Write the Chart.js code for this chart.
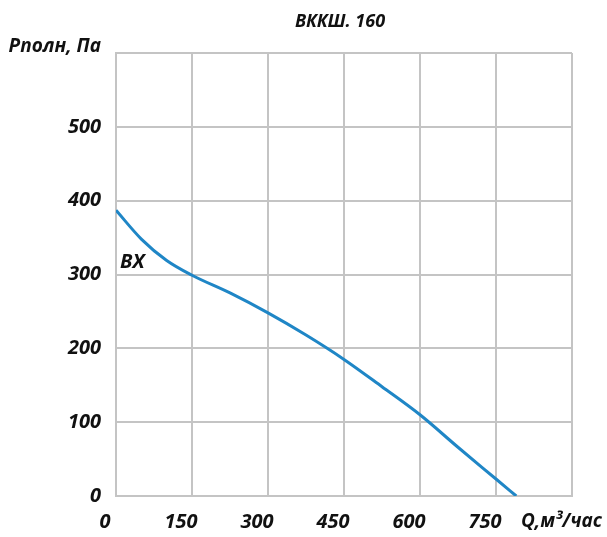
<!DOCTYPE html>
<html>
<head>
<meta charset="utf-8">
<script src="https://cdn.jsdelivr.net/npm/chart.js@4/dist/chart.umd.min.js"></script>
<style>
  html, body { margin: 0; padding: 0; background: #fff; }
  #wrap { width: 607px; height: 537px; }
</style>
</head>
<body>
<div id="wrap"><canvas id="c" width="607" height="537"></canvas></div>
<script>
// Fan curve ВККШ. 160: total pressure vs. air flow
const flowQ = [0, 50, 100, 150, 225, 300, 375, 450, 525, 600, 675, 750, 790];
const pressureP = [387, 348, 319, 299, 275, 248, 218, 185, 148, 110, 66, 23, 0];
const xTicks = [0, 150, 300, 450, 600, 750];
const yTicks = [0, 100, 200, 300, 400, 500];
const chartTitle = 'ВККШ. 160';
const yTitle = 'Рполн, Па';
const xTitle = 'Q,м³/час';
const curveLabel = 'ВХ';

const FONT = '"Open Sans", "DejaVu Sans", sans-serif';
const gridColor = '#c4c4c4';

const textPlugin = {
  id: 'texts',
  afterDraw(chart) {
    const ctx = chart.ctx;
    const xs = chart.scales.x, ys = chart.scales.y;
    ctx.save();
    ctx.fillStyle = '#111';
    ctx.font = 'italic 700 18px ' + FONT;
    ctx.textAlign = 'center';
    ctx.textBaseline = 'middle';
    ctx.fillText(chartTitle, 340, 22);

    ctx.font = 'italic 700 19px ' + FONT;
    ctx.textAlign = 'right';
    ctx.fillText(yTitle, 101, 47);

    ctx.textAlign = 'left';
    ctx.fillText(xTitle, 521, 522);

    ctx.font = 'italic 700 20px ' + FONT;
    ctx.fillText(curveLabel, xs.getPixelForValue(8), ys.getPixelForValue(316));
    ctx.restore();
  }
};

new Chart(document.getElementById('c'), {
  type: 'line',
  data: {
    datasets: [{
      data: flowQ.map((q, i) => ({ x: q, y: pressureP[i] })),
      borderColor: '#1f86c6',
      borderWidth: 3,
      pointRadius: 0,
      cubicInterpolationMode: 'monotone',
      fill: false
    }]
  },
  options: {
    responsive: false,
    animation: false,
    layout: { padding: { top: 53, right: 35, left: 0, bottom: 0 } },
    plugins: { legend: { display: false }, tooltip: { enabled: false }, title: { display: false } },
    scales: {
      x: {
        type: 'linear',
        min: 0, max: 900,
        afterBuildTicks(scale) { scale.ticks = [...xTicks, 900].map(v => ({ value: v })); },
        afterFit(scale) { scale.height = 41; },
        grid: { color: gridColor, lineWidth: 2, drawTicks: false },
        border: { color: gridColor, width: 2 },
        ticks: {
          padding: 14,
          labelOffset: -11,
          color: '#111',
          font: { family: FONT, size: 20, style: 'italic', weight: '700' },
          callback: v => xTicks.includes(v) ? String(v) : ''
        }
      },
      y: {
        min: 0, max: 600,
        afterBuildTicks(scale) { scale.ticks = [...yTicks, 600].map(v => ({ value: v })); },
        afterFit(scale) { scale.width = 116; },
        grid: { color: gridColor, lineWidth: 2, drawTicks: false },
        border: { color: gridColor, width: 2 },
        ticks: {
          padding: 15,
          color: '#111',
          font: { family: FONT, size: 20, style: 'italic', weight: '700' },
          callback: v => yTicks.includes(v) ? String(v) : ''
        }
      }
    }
  },
  plugins: [textPlugin]
});
</script>
</body>
</html>
